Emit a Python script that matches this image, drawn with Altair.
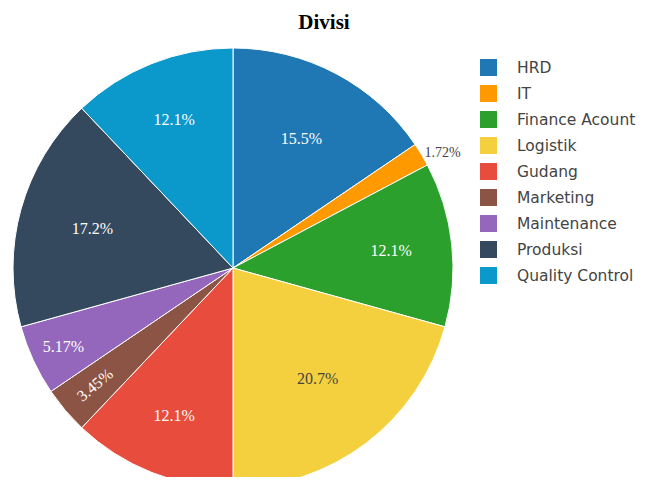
import altair as alt
import pandas as pd
import math

categories = ["HRD", "IT", "Finance Acount", "Logistik", "Gudang", "Marketing",
              "Maintenance", "Produksi", "Quality Control"]
counts = [9, 1, 7, 12, 7, 2, 3, 10, 7]
colors = ["#1f77b4", "#ff9900", "#2ca02c", "#f4d03f", "#e74c3c", "#8b5444",
          "#9467bd", "#34495e", "#0b99cc"]

total = sum(counts)
labels = []
for c in counts:
    p = 100 * c / total
    labels.append(f"{p:.3g}%")

df = pd.DataFrame({
    "cat": categories,
    "value": counts,
    "order": list(range(len(categories))),
    "label": labels,
})

TOP = 38
CX, CY, R = 225, 268 - TOP, 220

theta_scale = alt.Scale(domain=[0, total], range=[0, 2 * math.pi])

color = alt.Color("cat:N", scale=alt.Scale(domain=categories, range=colors),
                  sort=categories,
                  legend=alt.Legend(title=None, orient="none", legendX=472, legendY=59 - TOP,
                                    symbolType="square", symbolSize=289,
                                    symbolStrokeWidth=0, labelFont="DejaVu Sans",
                                    labelFontSize=15.5, labelColor="#444444",
                                    rowPadding=9, labelOffset=20, labelLimit=200))

base = alt.Chart(df).transform_window(
    cum="sum(value)", sort=[alt.SortField("order")]
).transform_calculate(
    start="datum.cum - datum.value",
    mid="datum.cum - datum.value / 2",
).encode(x=alt.value(CX), y=alt.value(CY))

pie = base.mark_arc(radius=R, stroke="white", strokeWidth=1).encode(
    theta=alt.Theta("start:Q", scale=theta_scale),
    theta2="cum:Q",
    color=color,
)


def labels_layer(cats, radius, **kw):
    return base.mark_text(radius=radius, font="Liberation Serif", **kw).encode(
        theta=alt.Theta("mid:Q", scale=theta_scale),
        text="label:N",
    ).transform_filter(alt.FieldOneOfPredicate(field="cat", oneOf=cats))


text_a = labels_layer(["HRD", "Produksi"], 146, fontSize=16, color="white")
text_b = labels_layer(["Finance Acount", "Gudang", "Quality Control"], 159,
                      fontSize=16, color="white")
text_log = labels_layer(["Logistik"], 140, fontSize=16, color="#444444")
text_maint = labels_layer(["Maintenance"], 187, fontSize=16, color="white")
text_mkt = labels_layer(["Marketing"], 181, fontSize=16, color="white", angle=320)
text_it = labels_layer(["IT"], 240, fontSize=14, color="#444444", dx=4, dy=9)

chart = alt.layer(pie, text_a, text_b, text_log, text_maint, text_mkt, text_it).properties(
    width=632, height=469 - TOP + 8,
    autosize=alt.AutoSizeParams(type="none"),
    padding={"left": 0, "top": TOP - 8, "right": 0, "bottom": 0},
    title=alt.Title("Divisi", font="Liberation Serif", fontSize=21, fontWeight="bold",
                    color="#000000", anchor="middle", offset=5),
).configure_view(stroke=None)

chart.save("out.html", embed_options={"renderer": "svg", "actions": False})
